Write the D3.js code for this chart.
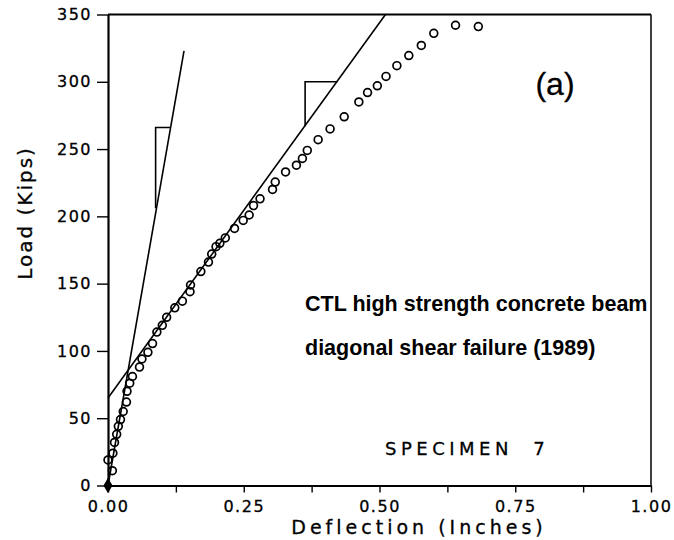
<!DOCTYPE html>
<html><head><meta charset="utf-8">
<script src="https://cdn.jsdelivr.net/npm/d3@7"></script>
<style>body{margin:0;background:#fff}svg{display:block}</style>
</head><body><div id="chart"></div>
<script>
const deflection = [0.000, 0.008, 0.009, 0.012, 0.016, 0.019, 0.023, 0.028, 0.034, 0.035, 0.040, 0.045, 0.058, 0.0625, 0.0735, 0.082, 0.090, 0.100, 0.108, 0.123, 0.137, 0.151, 0.152, 0.171, 0.185, 0.191, 0.199, 0.206, 0.216, 0.233, 0.249, 0.260, 0.268, 0.280, 0.303, 0.308, 0.327, 0.347, 0.358, 0.367, 0.387, 0.409, 0.435, 0.462, 0.478, 0.496, 0.512, 0.532, 0.554, 0.577, 0.600, 0.640, 0.682];
const load = [19, 11, 24, 32, 38, 44, 49, 55, 62, 70, 76, 81, 88, 94, 99, 105.5, 114, 119, 125, 132, 137, 144, 149, 159, 166, 172, 177.5, 180, 184, 191, 197, 201, 208, 213, 220, 225.5, 233, 238, 243, 249, 257, 265, 274, 285, 292, 297, 304, 312, 319.5, 327, 336, 342, 341];
// reference stiffness lines [deflection, load]
const initialLine = [[0.0, 0], [0.14, 323]];
const secantLine = [[0.0, 65], [0.511, 350]];
const slopeTri1 = [[0.0877, 206], [0.0877, 266], [0.115, 266]];
const slopeTri2 = [[0.363, 267], [0.363, 300], [0.422, 300]];
const xTicks = [0, 0.125, 0.25, 0.375, 0.5, 0.625, 0.75, 0.875, 1.0];
const xLabels = [0, 0.25, 0.5, 0.75, 1.0];
const yTicks = [0, 50, 100, 150, 200, 250, 300, 350];

const W = 674, H = 540;
const svg = d3.select("#chart").append("svg").attr("width", W).attr("height", H);
svg.append("rect").attr("width", W).attr("height", H).attr("fill", "#fff");

const x = d3.scaleLinear().domain([0, 1]).range([108, 651]);
const y = d3.scaleLinear().domain([0, 350]).range([485.5, 14.5]);

const tickFont = "'DejaVu Sans', sans-serif";
const boldFont = "'Liberation Sans', Arial, sans-serif";

// x axis
const xa = svg.append("g").attr("transform", `translate(0,${y(0)})`)
  .call(d3.axisBottom(x).tickValues(xTicks).tickSize(7).tickSizeOuter(0)
    .tickFormat(d => xLabels.includes(d) ? d3.format(".2f")(d) : ""));
xa.select(".domain").attr("stroke-width", 2);
xa.selectAll(".tick line").attr("stroke-width", 1.4);
xa.selectAll(".tick text").attr("font-family", tickFont).attr("font-size", 16)
  .attr("letter-spacing", "1.5px").attr("dy", "1.05em").attr("fill", "#000")
  .attr("stroke", "#000").attr("stroke-width", 0.3);

// y axis
const ya = svg.append("g").attr("transform", `translate(${x(0)},0)`)
  .call(d3.axisLeft(y).tickValues(yTicks).tickSize(11).tickSizeOuter(0).tickPadding(5));
ya.select(".domain").attr("stroke-width", 2.2);
ya.selectAll(".tick line").attr("stroke-width", 1.4);
ya.selectAll(".tick text").attr("font-family", tickFont).attr("font-size", 16)
  .attr("letter-spacing", "1.5px").attr("fill", "#000")
  .attr("stroke", "#000").attr("stroke-width", 0.3);

// top and right frame
svg.append("line").attr("x1", x(0)).attr("x2", x(1)).attr("y1", y(350)).attr("y2", y(350))
  .attr("stroke", "#000").attr("stroke-width", 1.8);
svg.append("line").attr("x1", x(1)).attr("x2", x(1)).attr("y1", y(350)).attr("y2", y(0))
  .attr("stroke", "#000").attr("stroke-width", 1.5);

const line = d3.line().x(d => x(d[0])).y(d => y(d[1]));
[initialLine, secantLine, slopeTri1, slopeTri2].forEach(p => {
  svg.append("path").attr("d", line(p)).attr("fill", "none")
    .attr("stroke", "#000").attr("stroke-width", 1.6);
});

// data circles
svg.append("g").selectAll("circle").data(deflection.map((d, i) => [d, load[i]]))
  .join("circle").attr("cx", d => x(d[0])).attr("cy", d => y(d[1])).attr("r", 3.9)
  .attr("fill", "none").attr("stroke", "#000").attr("stroke-width", 1.7);

// origin marker
svg.append("path").attr("d", d3.symbol(d3.symbolDiamond, 70)())
  .attr("transform", `translate(${x(0)},${y(0)})`).attr("fill", "#000");

// axis titles
svg.append("text").attr("x", 419).attr("y", 534).attr("text-anchor", "middle")
  .attr("font-family", tickFont).attr("font-size", 19).attr("letter-spacing", "4px")
  .attr("stroke", "#000").attr("stroke-width", 0.3)
  .text("Deflection (Inches)");
svg.append("text").attr("transform", "translate(32,213) rotate(-90)").attr("text-anchor", "middle")
  .attr("font-family", tickFont).attr("font-size", 20).attr("letter-spacing", "2px")
  .attr("stroke", "#000").attr("stroke-width", 0.3)
  .text("Load (Kips)");

// annotations
svg.append("text").attr("x", 555).attr("y", 95).attr("text-anchor", "middle")
  .attr("font-family", boldFont).attr("font-size", 32)
  .attr("stroke", "#000").attr("stroke-width", 0.3)
  .text("(a)");
svg.append("text").attr("x", 305).attr("y", 311).attr("font-family", boldFont)
  .attr("font-weight", "bold").attr("font-size", 21.5)
  .text("CTL high strength concrete beam");
svg.append("text").attr("x", 305).attr("y", 355).attr("font-family", boldFont)
  .attr("font-weight", "bold").attr("font-size", 21.5)
  .text("diagonal shear failure (1989)");
svg.append("text").attr("x", 385).attr("y", 455).attr("font-family", tickFont)
  .attr("font-size", 18).attr("letter-spacing", "4.5px").attr("xml:space", "preserve")
  .attr("stroke", "#000").attr("stroke-width", 0.3)
  .text("SPECIMEN  7");
</script></body></html>
